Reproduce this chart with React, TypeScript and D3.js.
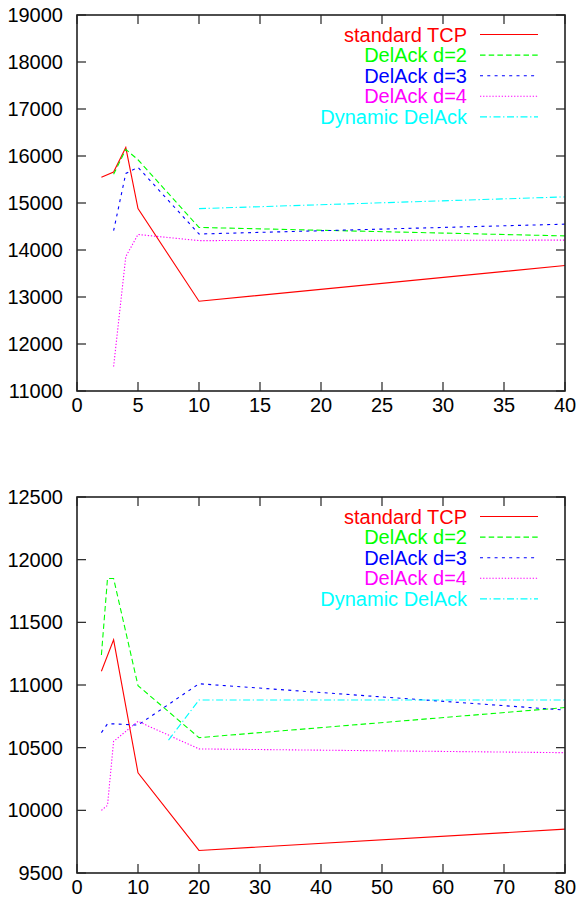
import React from "react";
import * as d3 from "d3";

const seriesNames = ["standard TCP", "DelAck d=2", "DelAck d=3", "DelAck d=4", "Dynamic DelAck"];
const seriesColors = ["#ff0000", "#00ff00", "#0000ff", "#ff00ff", "#00ffff"];
const seriesDash = ["none", "5.5 3.2", "3 4.3", "1.3 1.8", "7 2.6 1.3 2.6"];

// Top chart
const topXTicks = [0, 5, 10, 15, 20, 25, 30, 35, 40];
const topYTicks = [11000, 12000, 13000, 14000, 15000, 16000, 17000, 18000, 19000];
const topStdX = [2, 3, 4, 5, 10, 40];
const topStdY = [15550, 15660, 16180, 14880, 12910, 13670];
const topD2X = [3, 4, 5, 10, 40];
const topD2Y = [15610, 16140, 15920, 14480, 14300];
const topD3X = [3, 4, 5, 10, 40];
const topD3Y = [14410, 15630, 15760, 14340, 14550];
const topD4X = [3, 4, 5, 10, 40];
const topD4Y = [11520, 13860, 14330, 14200, 14210];
const topDynX = [10, 40];
const topDynY = [14880, 15130];

// Bottom chart
const botXTicks = [0, 10, 20, 30, 40, 50, 60, 70, 80];
const botYTicks = [9500, 10000, 10500, 11000, 11500, 12000, 12500];
const botStdX = [4, 6, 10, 20, 80];
const botStdY = [11110, 11360, 10300, 9680, 9850];
const botD2X = [4, 5, 6, 10, 20, 80];
const botD2Y = [11240, 11850, 11850, 10995, 10580, 10820];
const botD3X = [4, 5, 6, 10, 20, 80];
const botD3Y = [10620, 10690, 10690, 10680, 11010, 10800];
const botD4X = [4, 5, 6, 10, 20, 80];
const botD4Y = [10000, 10040, 10550, 10710, 10490, 10460];
const botDynX = [15, 20, 80];
const botDynY = [10560, 10880, 10880];

type Series = { xs: number[]; ys: number[] };

const FONT = "'Liberation Sans', Arial, Helvetica, sans-serif";
const FS = 20;
const AXIS = "#222";

function Chart(props: {
  top: number;
  bottom: number;
  xDomain: [number, number];
  yDomain: [number, number];
  xTicks: number[];
  yTicks: number[];
  series: Series[];
}) {
  const left = 77;
  const right = 565;
  const x = d3.scaleLinear().domain(props.xDomain).range([left, right]);
  const y = d3.scaleLinear().domain(props.yDomain).range([props.bottom, props.top]);
  const tl = 9;
  const line = (s: Series) =>
    d3
      .line<number>()
      .x((_, i) => x(s.xs[i]))
      .y((v) => y(v))(s.ys) || "";
  const legX1 = 480;
  const legX2 = 538;
  const legTextX = 467;
  return (
    <g>
      {props.series.map((s, i) => (
        <path
          key={"s" + i}
          d={line(s)}
          fill="none"
          stroke={seriesColors[i]}
          strokeWidth={1.1}
          strokeDasharray={seriesDash[i]}
        />
      ))}
      <rect
        x={left}
        y={props.top}
        width={right - left}
        height={props.bottom - props.top}
        fill="none"
        stroke={AXIS}
        strokeWidth={1.6}
      />
      {props.xTicks.map((t) => (
        <g key={"x" + t}>
          <line x1={x(t)} x2={x(t)} y1={props.bottom} y2={props.bottom - tl} stroke={AXIS} strokeWidth={1.2} />
          <line x1={x(t)} x2={x(t)} y1={props.top} y2={props.top + tl} stroke={AXIS} strokeWidth={1.2} />
          <text
            x={x(t)}
            y={props.bottom + 20.5}
            textAnchor="middle"
            fontFamily={FONT}
            fontSize={FS}
            fill="#000"
          >
            {t}
          </text>
        </g>
      ))}
      {props.yTicks.map((t) => (
        <g key={"y" + t}>
          <line x1={left} x2={left + tl} y1={y(t)} y2={y(t)} stroke={AXIS} strokeWidth={1.2} />
          <line x1={right} x2={right - tl} y1={y(t)} y2={y(t)} stroke={AXIS} strokeWidth={1.2} />
          <text
            x={63}
            y={y(t)}
            dy="0.35em"
            textAnchor="end"
            fontFamily={FONT}
            fontSize={FS}
            fill="#000"
          >
            {t}
          </text>
        </g>
      ))}
      {seriesNames.map((n, i) => {
        const ly = props.top + 19.5 + i * 20.6;
        return (
          <g key={"l" + i}>
            <text
              x={legTextX}
              y={ly}
              dy="0.35em"
              textAnchor="end"
              fontFamily={FONT}
              fontSize={FS}
              fill={seriesColors[i]}
            >
              {n}
            </text>
            <line
              x1={legX1}
              x2={legX2}
              y1={ly}
              y2={ly}
              stroke={seriesColors[i]}
              strokeWidth={1.1}
              strokeDasharray={seriesDash[i]}
            />
          </g>
        );
      })}
    </g>
  );
}

export default function App() {
  const topSeries: Series[] = [
    { xs: topStdX, ys: topStdY },
    { xs: topD2X, ys: topD2Y },
    { xs: topD3X, ys: topD3Y },
    { xs: topD4X, ys: topD4Y },
    { xs: topDynX, ys: topDynY },
  ];
  const botSeries: Series[] = [
    { xs: botStdX, ys: botStdY },
    { xs: botD2X, ys: botD2Y },
    { xs: botD3X, ys: botD3Y },
    { xs: botD4X, ys: botD4Y },
    { xs: botDynX, ys: botDynY },
  ];
  return (
    <svg
      width={578}
      height={905}
      style={{ position: "absolute", left: 0, top: 0, background: "#fff" }}
    >
      <rect width={578} height={905} fill="#fff" />
      <Chart
        top={15}
        bottom={391}
        xDomain={[0, 40]}
        yDomain={[11000, 19000]}
        xTicks={topXTicks}
        yTicks={topYTicks}
        series={topSeries}
      />
      <Chart
        top={497}
        bottom={873}
        xDomain={[0, 80]}
        yDomain={[9500, 12500]}
        xTicks={botXTicks}
        yTicks={botYTicks}
        series={botSeries}
      />
    </svg>
  );
}
